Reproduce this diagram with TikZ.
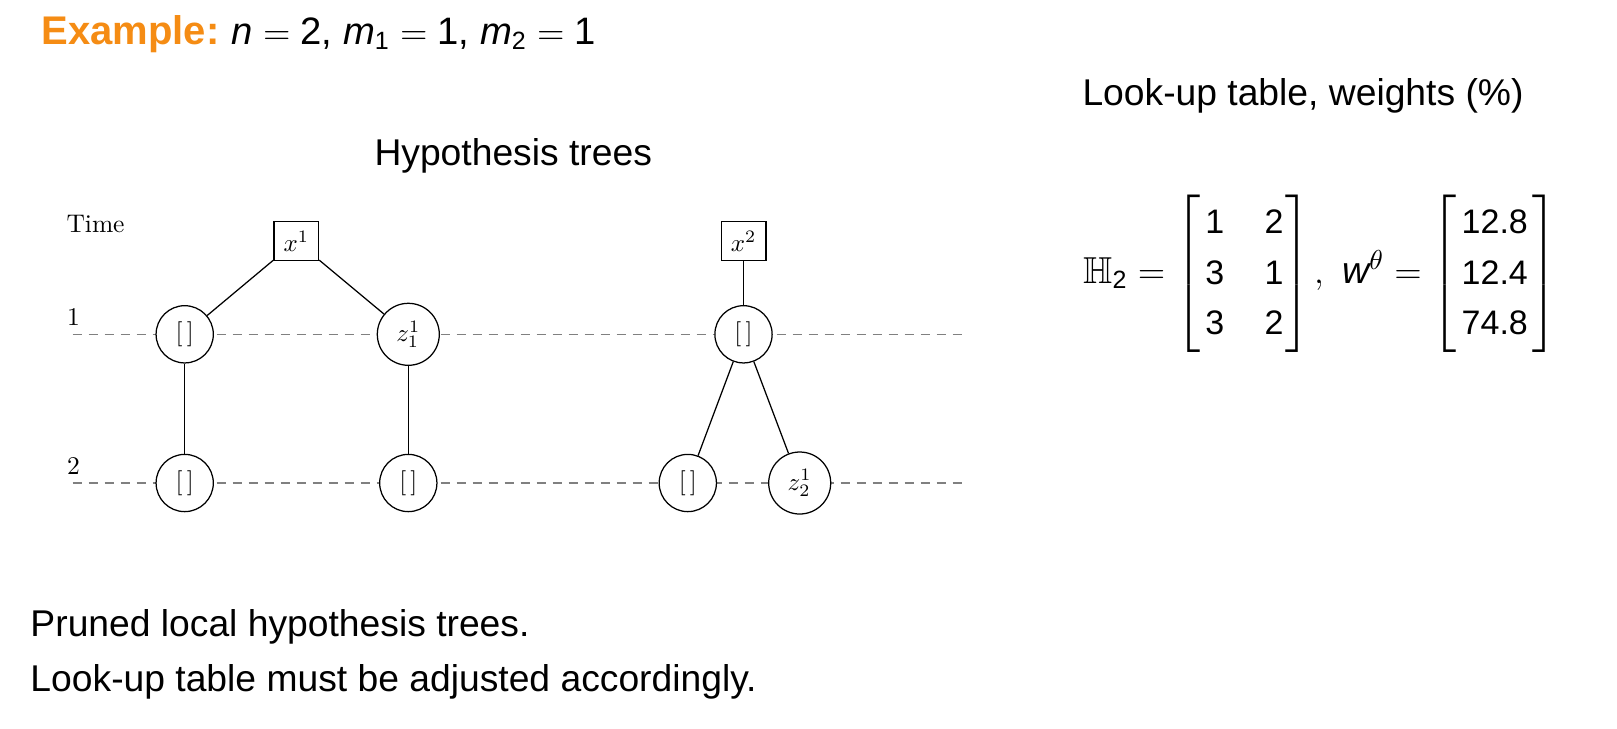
\documentclass[tikz,border=0pt]{standalone}
\usepackage{amsmath,amssymb}
\usepackage{fontspec}
\setsansfont{Liberation Sans}
\definecolor{exorange}{RGB}{245,140,20}
\newcommand\md[1]{\mbox{\fontsize{13.6}{16}\selectfont\sffamily #1}}
\newcommand\ms[1]{\mbox{\fontsize{10}{12}\selectfont\sffamily #1}}
\begin{document}
\begin{tikzpicture}[x=0.4pt,y=-0.4pt,
  lbl/.style={inner sep=0pt, anchor=base west},
  sf/.style={lbl, font=\fontsize{14.9}{18}\selectfont\sffamily},
  tl/.style={lbl, font=\fontsize{10.2}{12}\selectfont},
  tlink/.style={line width=0.5pt},
  tline/.style={line width=0.5pt, black!50, dash pattern=on 3.6pt off 2.8pt},
  hyp/.style={draw, circle, fill=white, line width=0.5pt, inner sep=0pt, minimum size=22.9pt, font=\fontsize{10.2}{12}\selectfont},
  hypz/.style={hyp, minimum size=24.8pt},
  root/.style={draw, rectangle, fill=white, line width=0.5pt, inner sep=0pt, minimum width=17.9pt, minimum height=15.5pt, font=\fontsize{10.2}{12}\selectfont}]
\useasboundingbox (0,0) rectangle (1617,728);

% headings
\node[lbl, font=\fontsize{15.3}{18}\selectfont\sffamily] (title) at (41,44.5) {\textcolor{exorange}{\fontsize{16}{18}\selectfont\bfseries Example:}\hspace{5pt}$\mbox{\itshape n} = \mbox{2}$, $\mbox{\itshape m}_{\ms{1}} = \mbox{1}$, $\mbox{\itshape m}_{\ms{2}} = \mbox{1}$};
\node[sf] (lut) at (1082,105) {Look-up table, weights (\%)};
\node[sf] (ht) at (374,165) {Hypothesis trees};
\node[sf] (p1) at (30,636.7) {Pruned local hypothesis trees.};
\node[sf] (p2) at (30,691.5) {Look-up table must be adjusted accordingly.};

% equation
\node[lbl, font=\fontsize{15}{18}\selectfont\sffamily] (eq) at (1083,283) {\renewcommand\arraystretch{1.12}$\mathbb{H}_{\ms{2}} = \left[\begin{array}{@{\hspace{2pt}}c@{\hspace{16.2pt}}c@{\hspace{0.8pt}}} \md{1} & \md{2}\\ \md{3} & \md{1}\\ \md{3} & \md{2}\end{array}\right]\hspace{-1pt},\hspace{5pt}\mbox{\itshape w}^{\theta} = \left[\begin{array}{@{\hspace{2pt}}c@{\hspace{2pt}}}\md{12.8}\\ \md{12.4}\\ \md{74.8}\end{array}\right]$};

% time axis
\node[tl] (time) at (66,232.7) {Time};
\node[tl] (k1) at (66.5,325) {1};
\node[tl] (k2) at (66.5,474) {2};
\coordinate (t1s) at (72.7,334.3);
\coordinate (t1e) at (966.7,334.3);
\coordinate (t2s) at (72.7,483);
\coordinate (t2e) at (965,483);
\draw[tline] (t1s) -- (t1e);
\draw[tline] (t2s) -- (t2e);

% tree 1
\node[root] (b1) at (296.3,241) {$x^1$};
\node[hyp] (c11) at (184.7,334.3) {$[\,]$};
\node[hypz] (c12) at (408.3,334.3) {$z_1^1$};
\node[hyp] (c21) at (184.7,483) {$[\,]$};
\node[hyp] (c22) at (408.3,483) {$[\,]$};
% tree 2
\node[root] (b2) at (743.5,241) {$x^2$};
\node[hyp] (d1) at (743.5,334.3) {$[\,]$};
\node[hyp] (d21) at (687.8,483) {$[\,]$};
\node[hypz] (d22) at (799.7,483) {$z_2^1$};

\draw[tlink] (b1) -- (c11);
\draw[tlink] (b1) -- (c12);
\draw[tlink] (c11) -- (c21);
\draw[tlink] (c12) -- (c22);
\draw[tlink] (b2) -- (d1);
\draw[tlink] (d1) -- (d21);
\draw[tlink] (d1) -- (d22);
\end{tikzpicture}
\end{document}
